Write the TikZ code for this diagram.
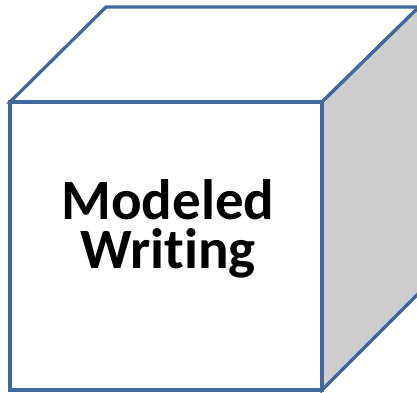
\documentclass[tikz,border=0pt]{standalone}
\usepackage{fontspec}
\setmainfont{Carlito}[RawFeature={-liga;-clig;-dlig}]
\definecolor{edgeblue}{RGB}{65,105,160}
\definecolor{sidegray}{RGB}{206,206,206}

\begin{document}
\begin{tikzpicture}[x=1pt,y=-1pt,line join=miter,
  face/.style={draw=edgeblue,line width=3.3pt,fill=white}]
  \useasboundingbox (0,0) rectangle (417,392);
  % three visible faces of the cube
  \draw[face] (10,102) -- (106,7) -- (419,7) -- (322,102) -- cycle;
  \draw[face,fill=sidegray] (322,102) -- (419,7) -- (419,293) -- (322,390) -- cycle;
  \draw[face] (10,102) rectangle (322,390);
  \node[align=center,font=\bfseries\fontsize{57}{49}\selectfont] (lbl) at (168,229) {Modeled\\Writing};
\end{tikzpicture}
\end{document}
